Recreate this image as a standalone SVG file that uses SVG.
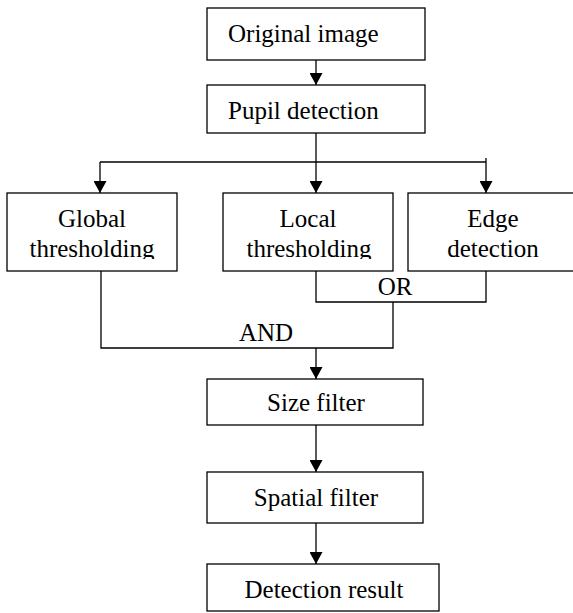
<svg xmlns="http://www.w3.org/2000/svg" width="573" height="613" viewBox="0 0 573 613">
<style>
.box{fill:#fff;stroke:#000;stroke-width:1.3}
.t{font-family:"Liberation Serif","Times New Roman",serif;font-size:25px;fill:#000}
.c{text-anchor:middle}
.ln{fill:none;stroke:#000;stroke-width:1.3}
</style>
<defs>
<marker id="ah" viewBox="0 0 12 13" refX="12" refY="6.5" markerWidth="12" markerHeight="13" markerUnits="userSpaceOnUse" orient="auto">
<path d="M0,0 L12,6.5 L0,13 Z" fill="#000"/>
</marker>
<clipPath id="cut"><rect x="0" y="190" width="573" height="69"/></clipPath>
</defs>
<rect width="573" height="613" fill="#fff"/>
<g id="connectors">
<path class="ln" d="M316,60 V85" marker-end="url(#ah)"/>
<path class="ln" d="M316,133 V193" marker-end="url(#ah)"/>
<path class="ln" d="M100,162 H486"/>
<path class="ln" d="M100,162 V193" marker-end="url(#ah)"/>
<path class="ln" d="M486,158 V193" marker-end="url(#ah)"/>
<path class="ln" d="M316,271 V302 H486 V271"/>
<path class="ln" d="M101,271 V348 H393 V302"/>
<path class="ln" d="M316,348 V379" marker-end="url(#ah)"/>
<path class="ln" d="M316,425 V472" marker-end="url(#ah)"/>
<path class="ln" d="M316,523 V564" marker-end="url(#ah)"/>
<text class="t c" x="266" y="341">AND</text>
<text class="t c" x="395" y="295">OR</text>
</g>
<g id="original">
<rect class="box" x="207" y="8" width="218" height="52"/>
<text class="t" x="228" y="42">Original image</text>
</g>
<g id="pupil">
<rect class="box" x="207" y="85" width="218" height="48"/>
<text class="t" x="228" y="119">Pupil detection</text>
</g>
<g id="global">
<rect class="box" x="7" y="193" width="170" height="78"/>
<text class="t c" x="92" y="227">Global</text>
<text class="t c" x="92" y="257" clip-path="url(#cut)">thresholding</text>
</g>
<g id="local">
<rect class="box" x="223" y="193" width="170" height="78"/>
<text class="t c" x="308" y="227">Local</text>
<text class="t c" x="309" y="257" clip-path="url(#cut)">thresholding</text>
</g>
<g id="edge">
<rect class="box" x="408" y="193" width="170" height="78"/>
<text class="t c" x="493" y="227">Edge</text>
<text class="t c" x="493" y="257">detection</text>
</g>
<g id="size">
<rect class="box" x="207" y="379" width="216" height="46"/>
<text class="t c" x="316" y="411">Size filter</text>
</g>
<g id="spatial">
<rect class="box" x="207" y="472" width="216" height="51"/>
<text class="t c" x="316" y="506">Spatial filter</text>
</g>
<g id="result">
<rect class="box" x="207" y="564" width="232" height="47"/>
<text class="t c" x="324" y="598">Detection result</text>
</g>
</svg>
